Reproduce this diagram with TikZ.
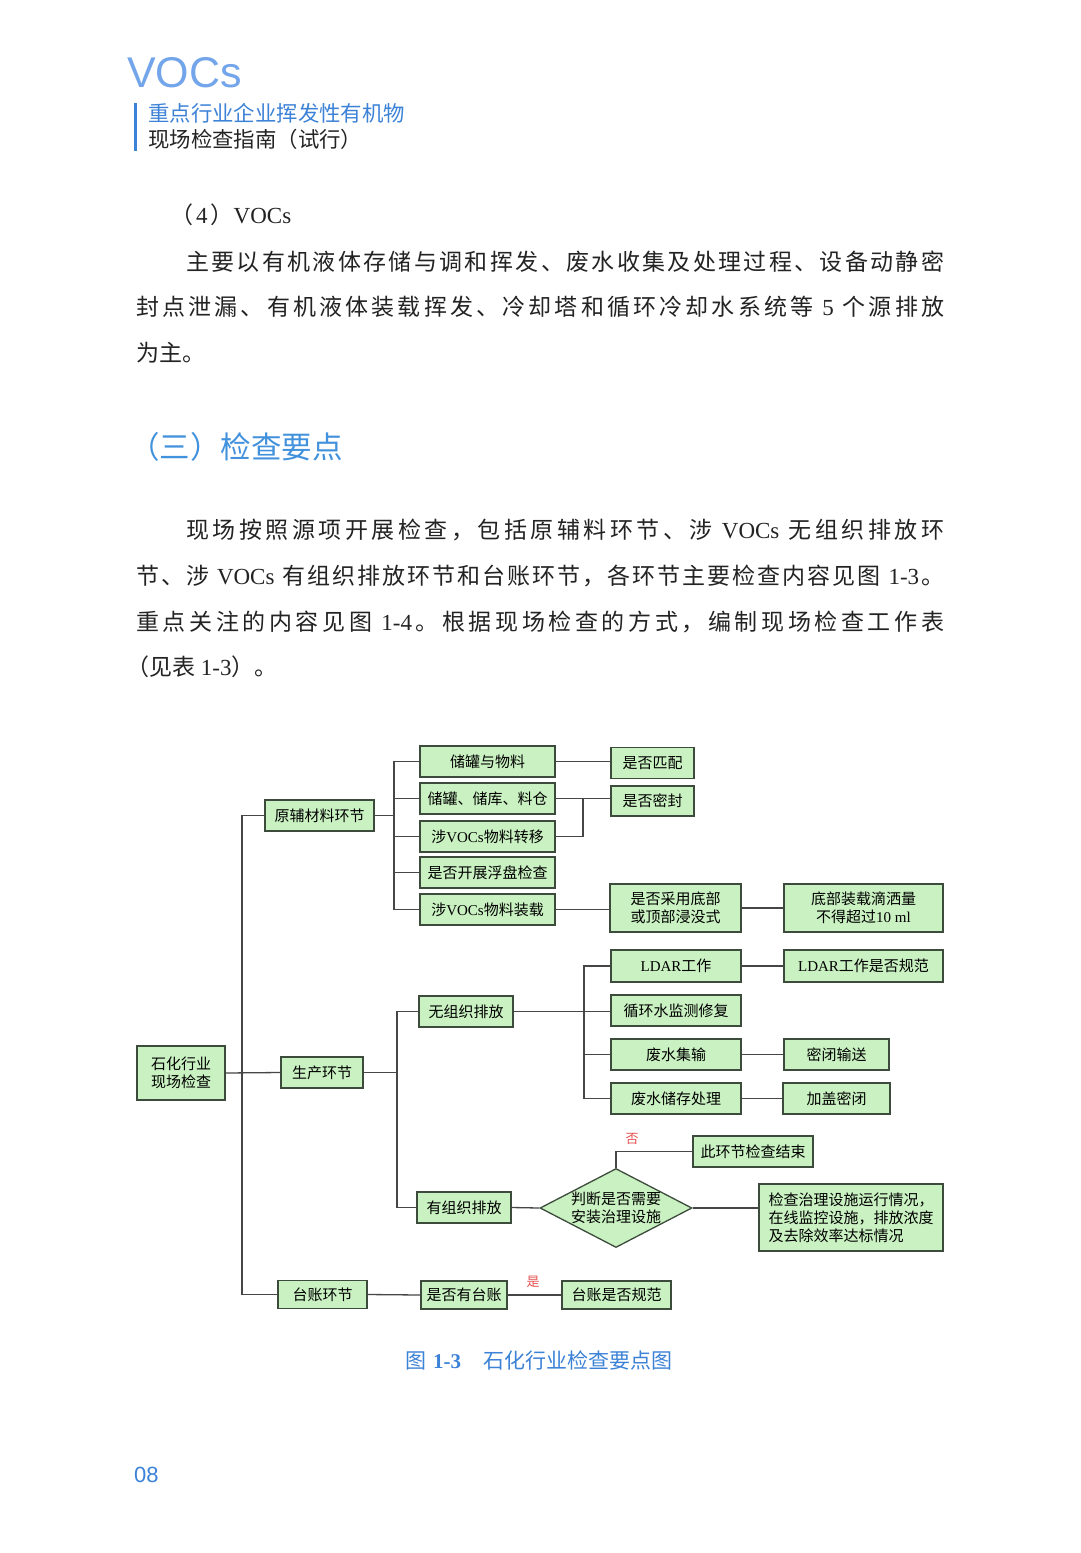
\documentclass[tikz,border=0pt]{standalone}
\usepackage{fontspec}
\setmainfont{Noto Sans CJK SC}
\newfontfamily\ser{Liberation Serif}
\newfontfamily\lsans{Liberation Sans}
\usetikzlibrary{shapes.geometric}

\definecolor{hdrblue}{RGB}{60,130,215}
\definecolor{headblue}{RGB}{65,145,220}
\definecolor{vocblue}{RGB}{115,165,235}
\definecolor{bodytxt}{RGB}{35,35,35}
\definecolor{boxfill}{RGB}{201,241,193}
\definecolor{boxline}{RGB}{60,75,60}
\definecolor{connline}{RGB}{70,70,70}
\definecolor{yesno}{RGB}{230,80,80}

\ExplSyntaxOn
\cs_new_protected:Npn \jline #1 #2
  { \hbox_to_wd:nn {#1} { \tl_map_inline:nn {#2} { {##1} \hfil } \unskip } }
\ExplSyntaxOff

\begin{document}
\begin{tikzpicture}[x=1pt,y=-1pt,
  txt/.style={anchor=west, inner sep=0, text=bodytxt, font=\fontsize{23}{28}\selectfont, text height=19pt, text depth=3pt},
  box/.style={draw=boxline, fill=boxfill, line width=1.3pt, inner sep=0, font=\fontsize{15}{18}\selectfont, align=center},
  conn/.style={draw=connline, line width=1.3pt},
  yn/.style={text=yesno, inner sep=0, font=\fontsize{13}{14}\selectfont}]
\useasboundingbox (0,0) rectangle (1080,1553);
\fill[white] (0,0) rectangle (1080,1553);

% header
\node[anchor=west, inner sep=0, text=vocblue, font=\lsans\fontsize{43}{46}\selectfont] (voc) at (127,72.5) {VOCs};
\fill[hdrblue] (133.5,103) rectangle (137,151);
\node[anchor=west, inner sep=0, text=hdrblue, font=\fontsize{21.4}{24}\selectfont] (t1) at (148,113) {重点行业企业挥发性有机物};
\node[anchor=west, inner sep=0, text=bodytxt, font=\fontsize{21.4}{24}\selectfont] (t2) at (148,139) {现场检查指南（试行）};

% body text
\node[txt] (p0) at (170,215) {（\hspace{3pt}{\ser 4}\hspace{3pt}）{\ser VOCs}};
\node[txt] (p1a) at (186,262) {\jline{758pt}{主要以有机液体存储与调和挥发、废水收集及处理过程、设备动静密}};
\node[txt] (p1b) at (136,307) {\jline{808pt}{封点泄漏、有机液体装载挥发、冷却塔和循环冷却水系统等{\ser\ 5\ }个源排放}};
\node[txt] (p1c) at (136,353) {为主。};

\node[anchor=west, inner sep=0, text=headblue, font=\fontsize{30.5}{36}\selectfont, text height=25pt, text depth=4pt] (h3) at (129,448) {（三）检查要点};

\node[txt] (p2a) at (186,530) {\jline{758pt}{现场按照源项开展检查，包括原辅料环节、涉{\ser\ VOCs\ }无组织排放环}};
\node[txt] (p2b) at (136,576) {\jline{808pt}{节、涉{\ser\ VOCs\ }有组织排放环节和台账环节，各环节主要检查内容见图{\ser\ 1-3}。}};
\node[txt] (p2c) at (136,622) {\jline{808pt}{重点关注的内容见图{\ser\ 1-4}。根据现场检查的方式，编制现场检查工作表}};
\node[txt] (p2d) at (126,667) {（见表{\ser\ 1-3}）。};

% diagram nodes
\node[box, minimum width=88, minimum height=54] (root) at (181,1073) {石化行业\\现场检查};
\node[box, minimum width=109, minimum height=31] (raw) at (319.5,815.5) {原辅材料环节};
\node[box, minimum width=82, minimum height=31] (prod) at (322,1072.5) {生产环节};
\node[box, minimum width=89, minimum height=28] (ledger) at (322.5,1294.5) {台账环节};

\node[box, minimum width=135, minimum height=31] (a1) at (487.5,761.5) {储罐与物料};
\node[box, minimum width=135, minimum height=31] (a2) at (487.5,798.5) {储罐、储库、料仓};
\node[box, minimum width=135, minimum height=31] (a3) at (487.5,836.5) {涉{\ser VOCs}物料转移};
\node[box, minimum width=135, minimum height=31] (a4) at (487.5,872.5) {是否开展浮盘检查};
\node[box, minimum width=135, minimum height=31] (a5) at (487.5,909.5) {涉{\ser VOCs}物料装载};

\node[box, minimum width=83, minimum height=31] (b1) at (652.5,763) {是否匹配};
\node[box, minimum width=83, minimum height=30] (b2) at (652.5,801) {是否密封};
\node[box, minimum width=131, minimum height=48] (b5) at (675.5,908) {是否采用底部\\或顶部浸没式};
\node[box, minimum width=159, minimum height=48] (c5) at (863.5,908) {底部装载滴洒量\\不得超过{\ser 10 ml}};

\node[box, minimum width=94, minimum height=31] (u) at (466,1011.5) {无组织排放};
\node[box, minimum width=130, minimum height=32] (d1) at (676,966) {{\ser LDAR}工作};
\node[box, minimum width=130, minimum height=31] (d2) at (676,1010.5) {循环水监测修复};
\node[box, minimum width=130, minimum height=31] (d3) at (676,1054.5) {废水集输};
\node[box, minimum width=130, minimum height=31] (d4) at (676,1098.5) {废水储存处理};
\node[box, minimum width=159, minimum height=32] (e1) at (863.5,966) {{\ser LDAR}工作是否规范};
\node[box, minimum width=105, minimum height=31] (e3) at (836.5,1054.5) {密闭输送};
\node[box, minimum width=107, minimum height=31] (e4) at (836.5,1098.5) {加盖密闭};

\node[box, minimum width=94, minimum height=31] (o) at (464,1207.5) {有组织排放};
\node[box, diamond, inner sep=-3pt, aspect=1.9, minimum width=152, minimum height=79] (dia) at (616,1208) {判断是否需要\\安装治理设施};
\node[box, minimum width=120, minimum height=31] (end) at (753,1151.5) {此环节检查结束};
\node[box, align=left, minimum width=184, minimum height=67] (chk) at (851,1217.5) {检查治理设施运行情况，\\在线监控设施，排放浓度\\及去除效率达标情况};

\node[box, minimum width=86, minimum height=28] (l1) at (464,1295) {是否有台账};
\node[box, minimum width=109, minimum height=28] (l2) at (616.5,1295) {台账是否规范};

\node[yn] (no) at (632,1139) {否};
\node[yn] (yes) at (533,1282) {是};

% connectors
\coordinate (m) at (242,0);
\coordinate (ra) at (394,0);
\coordinate (rb) at (583,0);
\coordinate (rc) at (397,0);
\coordinate (rd) at (584,0);

\draw[conn] (raw.west) -- (raw.west -| m) |- (ledger.west);
\draw[conn] (root.east) -- (prod.west);
\draw[conn] (raw.east) -- (raw.east -| ra);
\draw[conn] (a1.west) -- (a1.west -| ra) |- (a5.west);
\foreach \n in {a2,a3,a4} \draw[conn] (\n.west) -- (\n.west -| ra);
\draw[conn] (a1.east) -- (a1.east -| b1.west);
\draw[conn] (a2.east) -- (a2.east -| b2.west);
\draw[conn] (a3.east) -| (rb |- a2.east);
\draw[conn] (a5.east) -- (a5.east -| b5.west);
\draw[conn] (b5.east) -- (b5.east -| c5.west);

\draw[conn] (prod.east) -- (prod.east -| rc);
\draw[conn] (u.west) -- (u.west -| rc) |- (o.west);
\draw[conn] (u.east) -- (u.east -| d2.west);
\draw[conn] (d1.west) -- (d1.west -| rd) |- (d4.west);
\draw[conn] (d3.west) -- (d3.west -| rd);
\draw[conn] (d1.east) -- (d1.east -| e1.west);
\draw[conn] (d3.east) -- (d3.east -| e3.west);
\draw[conn] (d4.east) -- (d4.east -| e4.west);

\draw[conn] (o.east) -- (dia.west);
\draw[conn] (dia.north) |- (end.west);
\draw[conn] (dia.east) -- (dia.east -| chk.west);
\draw[conn] (ledger.east) -- (l1.west);
\draw[conn] (l1.east) -- (l2.west);

% caption
\node[anchor=west, inner sep=0, text=hdrblue, font=\fontsize{21}{24}\selectfont] (cap) at (405,1360) {图\hspace{7pt}{\ser\bfseries 1-3}\hspace{22pt}石化行业检查要点图};

% page number
\node[anchor=west, inner sep=0, text=hdrblue, font=\lsans\fontsize{22}{24}\selectfont] (pg) at (134,1475) {08};
\end{tikzpicture}
\end{document}
